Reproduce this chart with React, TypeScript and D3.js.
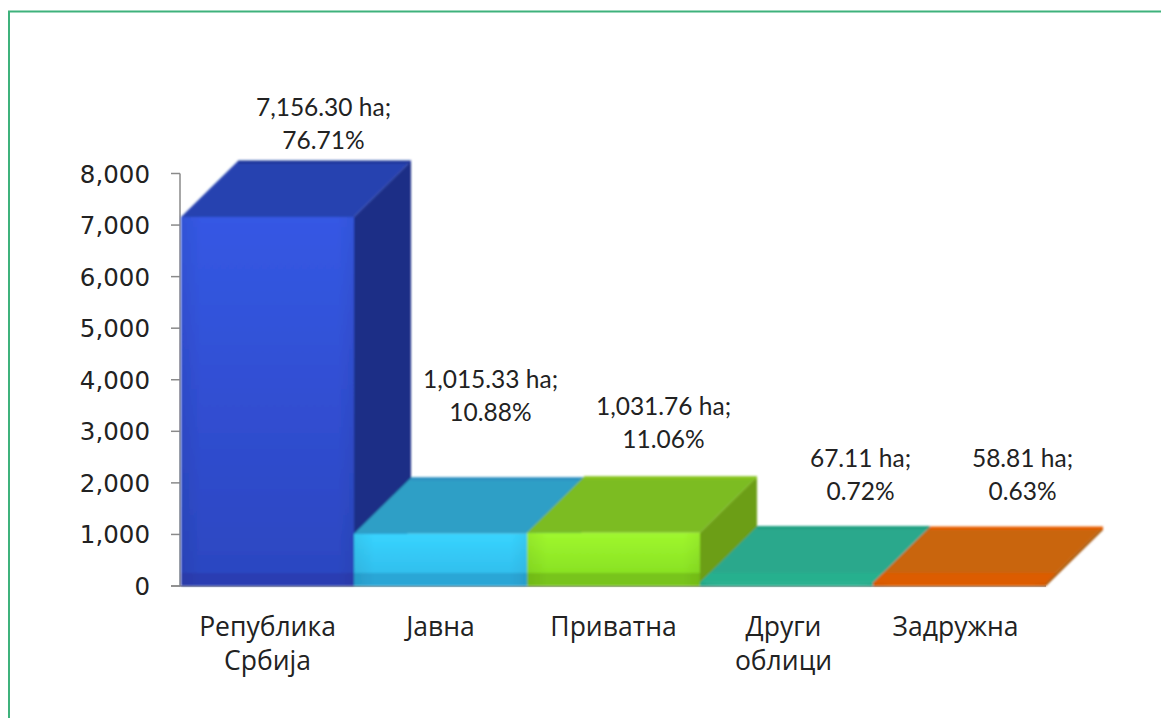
import React from 'react';
import * as d3 from 'd3';

// values
const categories = ['Република Србија', 'Јавна', 'Приватна', 'Други облици', 'Задружна'];
const categoryLines = [['Република', 'Србија'], ['Јавна'], ['Приватна'], ['Други', 'облици'], ['Задружна']];
const hectares = [7156.3, 1015.33, 1031.76, 67.11, 58.81];
const shares = [76.71, 10.88, 11.06, 0.72, 0.63];
const yTicks = [0, 1000, 2000, 3000, 4000, 5000, 6000, 7000, 8000];

// colours per bar: front top, front bottom, floor strip, top face, side face, back edge
const frontTop = ['#3558e4', '#38d4ff', '#a0f82e', '#2ab08e', '#dc5c02'];
const frontBottom = ['#2c46c0', '#30b8e8', '#82da20', '#2ab08e', '#dc5c02'];
const stripColor = ['#2b3db2', '#2aa6d6', '#78c41a', '#26b08e', '#dc5c02'];
const topColor = ['#2542b0', '#2f9fc6', '#7cbc20', '#2ba88c', '#c96508'];
const sideColor = ['#1f2f86', '#247fa0', '#6c9e14', '#1f8a70', '#a04f06'];
const edgeColor = ['#1c3398', '#2a8fc0', '#86c41c', '#1f9f80', '#e85c00'];

// manual label placement, as in the original chart
const labelNudgeX = [56, 50, 50, 74, 63];
const labelNudgeY = [-45, -90, -62, -60, -60];
const categoryNudgeX = [0, 0, 0, -3, -4];

const width = 1161;
const height = 718;
const depthX = 57;
const depthY = 56;
const stripH = 13;

const x = d3.scaleBand<number>().domain(d3.range(5)).range([181, 1046]);
const y = d3.scaleLinear().domain([0, 8000]).range([586, 173.5]);
const poly = (pts: number[][]) => pts.map((p) => p.join(',')).join(' ');

const fmt = d3.format(',.2f');

export default function App() {
  const bw = x.bandwidth();
  const stripTop = y(0) - stripH;
  return (
    <svg
      width={width}
      height={height}
      style={{ position: 'fixed', left: 0, top: 0, background: '#fff' }}
      data-categories={categories.join('|')}
    >
      <defs>
        <filter id="soft" x="-5%" y="-5%" width="110%" height="110%">
          <feGaussianBlur stdDeviation="0.8" />
        </filter>
        {hectares.map((_, i) => (
          <linearGradient key={i} id={`front${i}`} x1="0" y1="0" x2="0" y2="1">
            <stop offset="0" stopColor={frontTop[i]} />
            <stop offset="1" stopColor={frontBottom[i]} />
          </linearGradient>
        ))}
        <linearGradient id="shade" x1="0" y1="0" x2="1" y2="0">
          <stop offset="0" stopColor="#000" stopOpacity={0.06} />
          <stop offset="0.12" stopColor="#000" stopOpacity={0} />
          <stop offset="0.9" stopColor="#000" stopOpacity={0} />
          <stop offset="1" stopColor="#000" stopOpacity={0.05} />
        </linearGradient>
      </defs>

      {/* green frame, open on the right and at the bottom */}
      <path d={`M9,${height} V11.5 H${width}`} fill="none" stroke="#3fb27c" strokeWidth={2} />

      {/* axis */}
      <g stroke="#8a8a8a" strokeWidth={1.5} fill="none">
        <line x1={180} x2={180} y1={y(8000)} y2={y(0)} />
        <line x1={171} x2={1046} y1={y(0)} y2={y(0)} />
        {yTicks.map((t) => (
          <line key={t} x1={171} x2={180} y1={y(t)} y2={y(t)} />
        ))}
      </g>
      {yTicks.map((t) => (
        <text
          key={t}
          x={150}
          y={y(t) + 9}
          textAnchor="end"
          fontFamily="'DejaVu Sans'"
          fontSize={24.5}
          fill="#222"
        >
          {d3.format(',')(t)}
        </text>
      ))}

      {/* bars, left to right so each one hides the lower part of the previous side */}
      <g filter="url(#soft)">
        {hectares.map((v, i) => {
          const x0 = x(i)!;
          const x1 = x0 + bw;
          const yt = y(v);
          const yb = y(0);
          // flat bars: the floor strip runs across the top face instead of the front
          const shift = Math.max(0, yt - stripTop) * (depthX / depthY);
          return (
            <g key={i}>
              <polygon
                points={poly([[x1, yt], [x1 + depthX, yt - depthY], [x1 + depthX, yb - depthY], [x1, yb]])}
                fill={sideColor[i]}
              />
              <polygon
                points={poly([[x0, yt], [x0 + depthX, yt - depthY], [x1 + depthX, yt - depthY], [x1, yt]])}
                fill={topColor[i]}
              />
              <line
                x1={x0 + depthX}
                x2={x1 + depthX}
                y1={yt - depthY + 1}
                y2={yt - depthY + 1}
                stroke={edgeColor[i]}
                strokeWidth={3}
              />
              <rect x={x0} y={yt} width={bw} height={yb - yt} fill={`url(#front${i})`} />
              {shift > 0 && (
                <polygon
                  points={poly([[x0, yt], [x0 + shift, stripTop], [x1 + shift, stripTop], [x1, yt]])}
                  fill={stripColor[i]}
                />
              )}
              <rect x={x0} y={Math.max(yt, stripTop)} width={bw} height={Math.min(stripH, yb - yt)} fill={stripColor[i]} />
              <rect x={x0} y={yt} width={bw} height={yb - yt} fill="url(#shade)" />
            </g>
          );
        })}
      </g>

      {/* data labels */}
      {hectares.map((v, i) => {
        const cx = x(i)! + bw / 2 + labelNudgeX[i];
        const base = y(v) - depthY + labelNudgeY[i];
        return (
          <text
            key={i}
            textAnchor="middle"
            fontFamily="Lato, 'Open Sans'"
            fontSize={24.5}
            fill="#222"
          >
            <tspan x={cx} y={base}>{`${fmt(v)} ha;`}</tspan>
            <tspan x={cx} y={base + 33}>{`${shares[i].toFixed(2)}%`}</tspan>
          </text>
        );
      })}

      {/* category labels */}
      {categoryLines.map((lines, i) => (
        <text
          key={i}
          textAnchor="middle"
          fontFamily="'Open Sans'"
          fontSize={26.5}
          fill="#222"
        >
          {lines.map((l, j) => (
            <tspan key={j} x={x(i)! + bw / 2 + categoryNudgeX[i]} y={636 + j * 34}>
              {l}
            </tspan>
          ))}
        </text>
      ))}
    </svg>
  );
}
